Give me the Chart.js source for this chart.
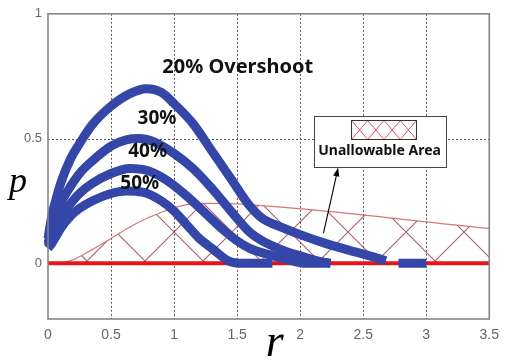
<!DOCTYPE html>
<html><head><meta charset="utf-8">
<script src="https://cdn.jsdelivr.net/npm/chart.js@4"></script>
<style>html,body{margin:0;padding:0;background:#fff}</style>
</head><body>
<canvas id="c" width="507" height="360"></canvas>
<script>
// ---------- data ----------
const xTicks = [0, 0.5, 1, 1.5, 2, 2.5, 3, 3.5];
const yTicks = [0, 0.5, 1];

const r20 = [0, 0.03, 0.06, 0.1, 0.18, 0.25, 0.35, 0.5, 0.65, 0.78, 0.9, 1.0, 1.15, 1.3, 1.45, 1.6, 1.7, 1.85, 2.0, 2.2, 2.37, 2.55, 2.68, 2.73, 2.78, 3.0];
const p20 = [0.10, 0.19, 0.25, 0.32, 0.42, 0.48, 0.555, 0.63, 0.68, 0.70, 0.685, 0.64, 0.56, 0.45, 0.34, 0.23, 0.18, 0.145, 0.115, 0.08, 0.055, 0.03, 0.01, null, 0, 0];

const r30 = [0, 0.03, 0.06, 0.1, 0.18, 0.25, 0.35, 0.5, 0.62, 0.72, 0.85, 1.0, 1.15, 1.3, 1.45, 1.6, 1.7, 1.85, 2.0, 2.12, 2.24];
const p30 = [0.08, 0.14, 0.19, 0.24, 0.31, 0.36, 0.41, 0.47, 0.495, 0.50, 0.485, 0.44, 0.38, 0.30, 0.21, 0.125, 0.09, 0.055, 0.03, 0.012, 0.0];

const r40 = [0, 0.03, 0.06, 0.1, 0.18, 0.25, 0.35, 0.5, 0.65, 0.8, 0.95, 1.1, 1.25, 1.4, 1.5, 1.6, 1.75, 1.9, 2.05, 2.24];
const p40 = [0.07, 0.11, 0.145, 0.185, 0.24, 0.28, 0.32, 0.36, 0.38, 0.37, 0.33, 0.27, 0.20, 0.13, 0.09, 0.06, 0.035, 0.015, 0.0, 0.0];

const r50 = [0, 0.03, 0.06, 0.1, 0.18, 0.25, 0.35, 0.5, 0.62, 0.75, 0.9, 1.0, 1.1, 1.2, 1.3, 1.43, 1.55, 1.78];
const p50 = [0.06, 0.08, 0.105, 0.14, 0.19, 0.22, 0.25, 0.28, 0.29, 0.285, 0.25, 0.21, 0.155, 0.10, 0.06, 0.01, 0.0, 0.0];

// boundary of the unallowable (hatched) area
const rArea = [0.09, 0.2, 0.35, 0.5, 0.7, 0.9, 1.1, 1.3, 1.5, 3.5];
const pArea = [0, 0.015, 0.055, 0.10, 0.16, 0.205, 0.235, 0.24, 0.238, 0.14];

// red zero line
const rBase = [0, 3.5];
const pBase = [0, 0];

const curveLabels = ['20% Overshoot', '30%', '40%', '50%'];
const legendText = 'Unallowable Area';

// ---------- helpers ----------
const pts = (rs, ps) => rs.map((r, i) => ({x: r, y: ps[i]}));
const BLUE = '#3446a8';

function hatchPattern(size, color, lw) {
  const c = document.createElement('canvas');
  c.width = size; c.height = size;
  const g = c.getContext('2d');
  g.strokeStyle = color; g.lineWidth = lw;
  g.beginPath();
  g.moveTo(0, 0); g.lineTo(size, size);
  g.moveTo(size, 0); g.lineTo(0, size);
  g.stroke();
  return document.getElementById('c').getContext('2d').createPattern(c, 'repeat');
}
const areaPattern = hatchPattern(58, 'rgba(135,45,70,0.75)', 1.1);

function curve(rs, ps) {
  return {
    type: 'line', data: pts(rs, ps), borderColor: BLUE, borderWidth: 9,
    pointRadius: 0, fill: false, cubicInterpolationMode: 'monotone',
    borderJoinStyle: 'round', borderCapStyle: 'butt', order: 0, clip: 6
  };
}

// ---------- decorations (grid, frame, annotations) ----------
const decor = {
  id: 'decor',
  beforeDatasetsDraw(chart) {
    const {ctx, chartArea: a, scales: {x, y}} = chart;
    ctx.save();
    ctx.strokeStyle = '#5a5a5a'; ctx.lineWidth = 1; ctx.setLineDash([2, 2]);
    xTicks.slice(1, -1).forEach(v => {
      const px = Math.round(x.getPixelForValue(v)) + 0.5;
      ctx.beginPath(); ctx.moveTo(px, a.top); ctx.lineTo(px, a.bottom); ctx.stroke();
    });
    [0.5].forEach(v => {
      const py = Math.round(y.getPixelForValue(v)) + 0.5;
      ctx.beginPath(); ctx.moveTo(a.left, py); ctx.lineTo(a.right, py); ctx.stroke();
    });
    ctx.restore();
  },
  afterDatasetsDraw(chart) {
    const {ctx, chartArea: a, scales: {x, y}} = chart;
    const X = v => x.getPixelForValue(v), Y = v => y.getPixelForValue(v);
    ctx.save();
    // frame
    ctx.strokeStyle = '#858585'; ctx.lineWidth = 1.6;
    ctx.strokeRect(a.left, a.top, a.right - a.left, a.bottom - a.top);

    // curve labels
    ctx.fillStyle = '#111';
    ctx.textAlign = 'center'; ctx.textBaseline = 'alphabetic';
    ctx.font = 'bold 20px "Noto Sans", "Open Sans", sans-serif';
    ctx.fillText(curveLabels[0], X(1.505), Y(0.764));
    ctx.font = 'bold 19px "Noto Sans", "Open Sans", sans-serif';
    ctx.fillText(curveLabels[1], X(0.865), Y(0.559));
    ctx.fillText(curveLabels[2], X(0.79), Y(0.425));
    ctx.fillText(curveLabels[3], X(0.728), Y(0.299));

    // legend box
    const bx0 = X(2.11), bx1 = X(3.16), by0 = Y(0.59), by1 = Y(0.385);
    ctx.fillStyle = '#fff';
    ctx.fillRect(bx0, by0, bx1 - bx0, by1 - by0);
    ctx.strokeStyle = '#444'; ctx.lineWidth = 1;
    ctx.strokeRect(Math.round(bx0) + 0.5, Math.round(by0) + 0.5, Math.round(bx1 - bx0), Math.round(by1 - by0));
    // hatch sample
    const hx0 = Math.round(X(2.40)) + 0.5, hx1 = Math.round(X(2.92)) + 0.5;
    const hy0 = Math.round(Y(0.574)) + 0.5, hy1 = Math.round(Y(0.50)) + 0.5;
    ctx.save();
    ctx.beginPath(); ctx.rect(hx0, hy0, hx1 - hx0, hy1 - hy0); ctx.clip();
    ctx.strokeStyle = 'rgba(225,60,85,0.9)'; ctx.lineWidth = 1;
    const cw = (hx1 - hx0) / 4;
    ctx.beginPath();
    for (let i = -1; i <= 5; i++) {
      const sx = hx0 + i * cw;
      ctx.moveTo(sx, hy0); ctx.lineTo(sx + cw, hy1);
      ctx.moveTo(sx + cw, hy0); ctx.lineTo(sx, hy1);
    }
    ctx.stroke();
    ctx.restore();
    ctx.strokeStyle = '#333'; ctx.lineWidth = 1;
    ctx.strokeRect(hx0, hy0, hx1 - hx0, hy1 - hy0);
    ctx.fillStyle = '#111';
    ctx.font = 'bold 14px "Noto Sans", "Open Sans", sans-serif';
    ctx.textAlign = 'center'; ctx.textBaseline = 'alphabetic';
    ctx.fillText(legendText, X(2.63), Y(0.433));

    // arrow from area to legend box
    const ax0 = X(2.185), ay0 = Y(0.121), ax1 = X(2.30), ay1 = Y(0.381);
    ctx.strokeStyle = '#000'; ctx.lineWidth = 1.1;
    ctx.beginPath(); ctx.moveTo(ax0, ay0); ctx.lineTo(ax1, ay1); ctx.stroke();
    const ang = Math.atan2(ay1 - ay0, ax1 - ax0), L = 8, W = 3.2;
    ctx.fillStyle = '#000';
    ctx.beginPath();
    ctx.moveTo(ax1, ay1);
    ctx.lineTo(ax1 - L * Math.cos(ang) + W * Math.sin(ang), ay1 - L * Math.sin(ang) - W * Math.cos(ang));
    ctx.lineTo(ax1 - L * Math.cos(ang) - W * Math.sin(ang), ay1 - L * Math.sin(ang) + W * Math.cos(ang));
    ctx.closePath(); ctx.fill();

    // axis titles
    ctx.fillStyle = '#000';
    ctx.font = 'italic 36px "Liberation Serif", "DejaVu Serif", serif';
    ctx.textAlign = 'center'; ctx.textBaseline = 'alphabetic';
    ctx.fillText('p', 18, 192);
    ctx.font = 'italic 46px "Liberation Serif", "DejaVu Serif", serif';
    ctx.fillText('r', (a.left + a.right) / 2 + 6, 356);
    ctx.restore();
  }
};

const fmt = v => String(v);

new Chart(document.getElementById('c'), {
  type: 'line',
  data: {
    datasets: [
      curve(r20, p20), curve(r30, p30), curve(r40, p40), curve(r50, p50),
      { data: pts(rBase, pBase), borderColor: '#e8141c', borderWidth: 4, pointRadius: 0, fill: false, order: 1, clip: 2 },
      { data: pts(rArea, pArea), borderColor: 'rgba(205,95,95,0.85)', borderWidth: 1.2, pointRadius: 0,
        cubicInterpolationMode: 'monotone',
        fill: {target: {value: 0}}, backgroundColor: areaPattern, order: 2 }
    ]
  },
  options: {
    responsive: false, animation: false, devicePixelRatio: 1,
    layout: {padding: {top: 13, right: 11, left: 0, bottom: 0}},
    plugins: {legend: {display: false}, tooltip: {enabled: false}},
    scales: {
      x: {
        type: 'linear', min: 0, max: 3.5,
        afterBuildTicks: s => { s.ticks = xTicks.map(v => ({value: v})); },
        afterFit: s => { s.height = 41; },
        grid: {display: false, drawTicks: false}, border: {display: false},
        ticks: {padding: 8, color: '#666', font: {size: 14, family: '"Liberation Sans", Arial, sans-serif'}, callback: fmt, maxRotation: 0, autoSkip: false}
      },
      y: {
        type: 'linear', min: -0.223, max: 1,
        afterBuildTicks: s => { s.ticks = yTicks.map(v => ({value: v})); },
        afterFit: s => { s.width = 48; },
        grid: {display: false, drawTicks: false}, border: {display: false},
        ticks: {padding: 6, color: '#666', font: {size: 13, family: '"Liberation Sans", Arial, sans-serif'}, callback: fmt}
      }
    }
  },
  plugins: [decor]
});
</script>
</body></html>
